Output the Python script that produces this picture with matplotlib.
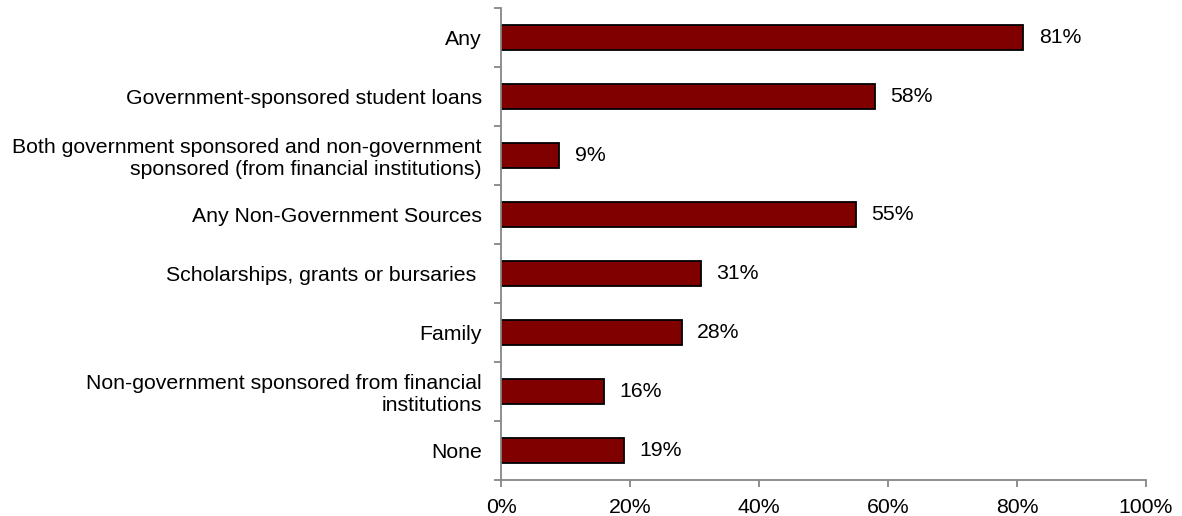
import matplotlib.pyplot as plt
import numpy as np

plt.rcParams['font.family'] = ['Liberation Sans', 'DejaVu Sans']

categories = [
    "Any",
    "Government-sponsored student loans",
    "Both government sponsored and non-government\nsponsored (from financial institutions)",
    "Any Non-Government Sources",
    "Scholarships, grants or bursaries ",
    "Family",
    "Non-government sponsored from financial\ninstitutions",
    "None",
]
values = [81, 58, 9, 55, 31, 28, 16, 19]

fig = plt.figure(figsize=(11.82, 5.16), dpi=100)
ax = fig.add_axes([0.424, 0.0698, 0.5455, 0.9147])

y = np.arange(len(categories))[::-1]
ax.barh(y, values, height=0.41, color='#800000', edgecolor='black', linewidth=1.3)

for yi, v in zip(y, values):
    ax.text(v + 2.4, yi, f"{v}%", va='center', ha='left', fontsize=15.3)

ax.set_xlim(0, 100)
ax.set_ylim(-0.5, len(categories) - 0.5)
ax.set_xticks(np.arange(0, 101, 20))
ax.set_xticklabels([f"{t}%" for t in range(0, 101, 20)], fontsize=15.3)
ax.set_yticks(y)
ax.set_yticklabels(categories, fontsize=15.3, linespacing=1.15)
ax.set_yticks(np.arange(-0.5, len(categories), 1.0), minor=True)
ax.tick_params(axis='y', which='major', length=0, pad=14)
ax.tick_params(axis='y', which='minor', length=5, color='#868686', width=1.3)
ax.tick_params(axis='x', length=5, color='#868686', width=1.3, pad=8)

for s in ['top', 'right']:
    ax.spines[s].set_visible(False)
for s in ['left', 'bottom']:
    ax.spines[s].set_color('#868686')
    ax.spines[s].set_linewidth(1.3)

fig.savefig('out.png', dpi=100)
